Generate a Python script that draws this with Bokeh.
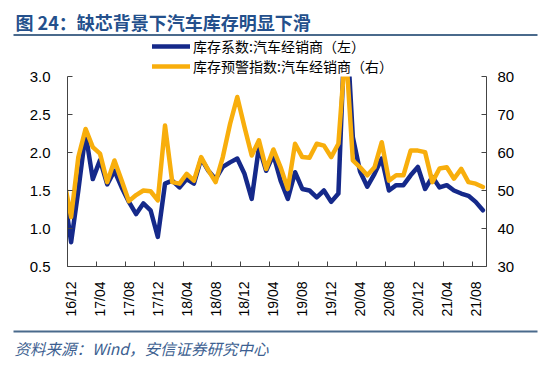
import math
from bokeh.plotting import figure
from bokeh.models import (ColumnDataSource, Range1d, LinearAxis, FixedTicker, Legend,
                          LegendItem, Label, BoxAnnotation, NumeralTickFormatter)
from bokeh.embed import file_html
from bokeh.resources import INLINE

# ---------------- data ----------------
months = ["16/11", "16/12",
          "17/01", "17/02", "17/03", "17/04", "17/05", "17/06", "17/07", "17/08", "17/09", "17/10", "17/11", "17/12",
          "18/01", "18/02", "18/03", "18/04", "18/05", "18/06", "18/07", "18/08", "18/09", "18/10", "18/11", "18/12",
          "19/01", "19/02", "19/03", "19/04", "19/05", "19/06", "19/07", "19/08", "19/09", "19/10", "19/11", "19/12",
          "20/01", "20/02", "20/03", "20/04", "20/05", "20/06", "20/07", "20/08", "20/09", "20/10", "20/11", "20/12",
          "21/01", "21/02", "21/03", "21/04", "21/05", "21/06", "21/07", "21/08", "21/09"]

inventory_coef = [1.48, 0.82,
                  1.50, 2.25, 1.65, 1.90, 1.58, 1.76, 1.54, 1.35, 1.19, 1.33, 1.24, 0.89,
                  1.59, 1.63, 1.54, 1.65, 1.59, 1.92, 1.76, 1.65, 1.81, 1.87, 1.92, 1.72,
                  1.39, 2.07, 1.76, 1.97, 1.63, 1.39, 1.74, 1.52, 1.50, 1.41, 1.50, 1.35,
                  1.46, 3.90, 2.20, 1.75, 1.55, 1.72, 1.92, 1.50, 1.57, 1.57, 1.70, 1.81,
                  1.52, 1.68, 1.54, 1.57, 1.50, 1.46, 1.43, 1.35, 1.24]

alert_index = [53.0, 43.0,
               58.8, 66.2, 61.4, 59.7, 52.2, 57.9, 52.6, 47.2, 48.8, 50.0, 49.8, 47.4,
               67.1, 52.2, 51.8, 54.4, 52.6, 58.8, 55.3, 52.2, 58.8, 67.5, 74.6, 66.7,
               59.2, 63.2, 55.7, 60.8, 56.1, 50.4, 62.3, 58.8, 58.6, 62.3, 61.8, 58.8,
               62.3, 88.0, 57.9, 56.1, 54.0, 56.1, 62.7, 52.6, 54.0, 54.0, 60.5, 60.5,
               60.1, 52.2, 55.8, 56.1, 53.1, 55.7, 52.2, 51.8, 50.9]

tick_labels = ["16/12", "17/04", "17/08", "17/12", "18/04", "18/08", "18/12", "19/04",
               "19/08", "19/12", "20/04", "20/08", "20/12", "21/04", "21/08"]

left_ticks = [0.5, 1.0, 1.5, 2.0, 2.5, 3.0]
right_ticks = [30, 40, 50, 60, 70, 80]

series_names = ["库存系数:汽车经销商（左）", "库存预警指数:汽车经销商（右）"]
title_text = "图 24：缺芯背景下汽车库存明显下滑"
source_text = "资料来源：Wind，安信证券研究中心"

# ---------------- styling / layout ----------------
BLUE = "#15298a"
ORANGE = "#f8ae0c"
AXIS = "#444444"
TITLE_C = "#24508c"
SRC_C = "#3d5f91"
RULE_C = "#4a6a8c"
NUM_FONT = "Liberation Sans"
CJK_FONT = "Noto Sans CJK SC"

W, H = 550, 369
# chart area in canvas pixels
CL, CR, CT, CB = 67, 486, 76, 266

base = months.index("16/12")
xs = [i - base for i in range(len(months))]
X0, X1 = -0.5, len(months) - base - 0.5          # category edges of the axis
Y0, Y1 = left_ticks[0], left_ticks[-1]
R0, R1 = right_ticks[0], right_ticks[-1]

kx = (CR - CL) / (X1 - X0)
ky = (CB - CT) / (Y1 - Y0)
kr = (CB - CT) / (R1 - R0)

x_range = Range1d(X0 - CL / kx, X1 + (W - CR) / kx)
y_range = Range1d(Y0 - (H - CB) / ky, Y1 + CT / ky)
r_range = Range1d(R0 - (H - CB) / kr, R1 + CT / kr)

src = ColumnDataSource(dict(x=xs, coef=inventory_coef, alert=alert_index, month=months))

major = [months.index(t) - base for t in tick_labels]
minor = [m - 0.5 for m in major]

p = figure(width=W, height=H, output_backend="svg", toolbar_location=None,
           x_range=x_range, y_range=y_range, min_border=0)
p.title.visible = False
p.outline_line_color = None
p.background_fill_color = "white"
p.border_fill_color = "white"
p.xgrid.visible = False
p.ygrid.visible = False
p.extra_y_ranges = {"right": r_range}

xa = p.xaxis[0]
xa.fixed_location = Y0
xa.bounds = (X0, X1)
xa.ticker = FixedTicker(ticks=major, minor_ticks=minor)
xa.major_label_overrides = {m: t for m, t in zip(major, tick_labels)}
xa.major_label_orientation = math.pi / 2
xa.major_tick_line_color = None
xa.minor_tick_in = 5
xa.minor_tick_out = 0
xa.minor_tick_line_color = AXIS
xa.axis_line_color = AXIS
xa.major_label_text_font = NUM_FONT
xa.major_label_text_font_size = "14px"
xa.major_label_text_color = "#000000"
xa.major_label_standoff = 9

ya = p.yaxis[0]
ya.fixed_location = X0
ya.bounds = (Y0, Y1)
ya.ticker = FixedTicker(ticks=left_ticks)
ya.formatter = NumeralTickFormatter(format="0.0")
ya.major_tick_in = 5
ya.major_tick_out = 0
ya.minor_tick_line_color = None
ya.axis_line_color = AXIS
ya.major_tick_line_color = AXIS
ya.major_label_text_font = NUM_FONT
ya.major_label_text_font_size = "15px"
ya.major_label_text_color = "#000000"
ya.major_label_standoff = 17

ra = LinearAxis(y_range_name="right", ticker=FixedTicker(ticks=right_ticks))
ra.fixed_location = X1
ra.bounds = (R0, R1)
ra.major_tick_in = 5
ra.major_tick_out = 0
ra.minor_tick_line_color = None
ra.axis_line_color = AXIS
ra.major_tick_line_color = AXIS
ra.major_label_text_font = NUM_FONT
ra.major_label_text_font_size = "15px"
ra.major_label_text_color = "#000000"
ra.major_label_standoff = 11
p.add_layout(ra, "right")

blue = p.line("x", "coef", source=src, line_width=4.5, line_color=BLUE,
              line_join="round", line_cap="round", level="underlay")
orange = p.line("x", "alert", source=src, y_range_name="right", line_width=4.5,
                line_color=ORANGE, line_join="round", line_cap="round", level="underlay")

# white masks: clip the series to the plot area (drawn over lines, under axes/texts)
pad_x = x_range.end - x_range.start
pad_y = y_range.end - y_range.start
for box in (dict(left=x_range.start - pad_x, right=x_range.end + pad_x, bottom=Y1,
                 top=y_range.end + pad_y),
            dict(left=x_range.start - pad_x, right=X0, bottom=y_range.start - pad_y,
                 top=y_range.end + pad_y),
            dict(left=X1, right=x_range.end + pad_x, bottom=y_range.start - pad_y,
                 top=y_range.end + pad_y)):
    p.add_layout(BoxAnnotation(**box, fill_color="white", fill_alpha=1,
                               line_color=None, level="glyph"))

legend = Legend(items=[LegendItem(label=series_names[0], renderers=[blue]),
                       LegendItem(label=series_names[1], renderers=[orange])],
                location=(152, H - CT), orientation="vertical", padding=0, margin=0,
                spacing=0, glyph_width=38, glyph_height=18, label_height=18,
                label_standoff=3, border_line_color=None, background_fill_alpha=0,
                label_text_font=CJK_FONT, label_text_font_size="14px",
                label_text_color="#000000")
p.add_layout(legend, "center")

# title, rules, source (screen units: from the bottom-left corner)
p.add_layout(Label(x=15, y=H - 21.5, x_units="screen", y_units="screen", text=title_text,
                   text_baseline="middle", text_align="left", text_font=CJK_FONT,
                   text_font_size="18px", text_font_style="bold", text_color=TITLE_C))
for y_mid in (34.5, 331):
    p.add_layout(BoxAnnotation(left=13, right=537, top=H - y_mid + 1, bottom=H - y_mid - 1,
                               left_units="screen", right_units="screen",
                               top_units="screen", bottom_units="screen",
                               fill_color=RULE_C, fill_alpha=1, line_color=None))
p.add_layout(Label(x=14, y=H - 347, x_units="screen", y_units="screen", text=source_text,
                   text_baseline="middle", text_align="left", text_font=CJK_FONT,
                   text_font_size="15.5px", text_font_style="italic", text_color=SRC_C))

open("out.html", "w").write(file_html(p, INLINE))
